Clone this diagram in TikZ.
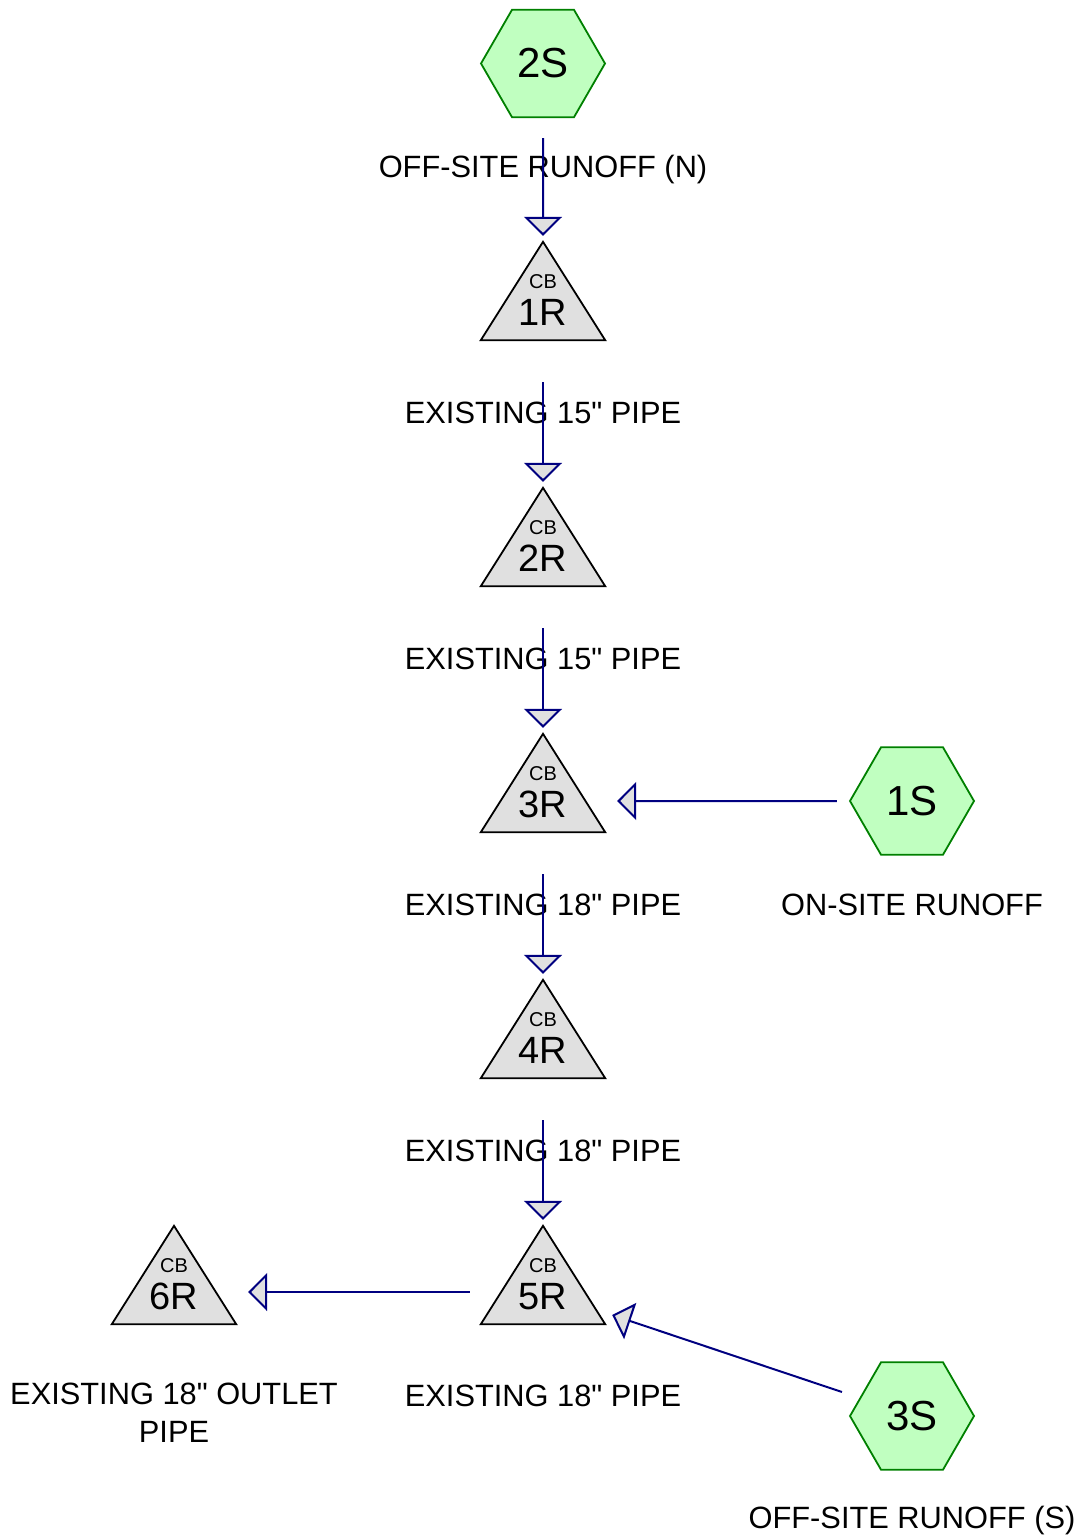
\documentclass[tikz,border=0pt]{standalone}
\usepackage{fontspec}
\setmainfont{Liberation Sans}[Ligatures=TeXOff]
\usetikzlibrary{shapes.geometric,arrows.meta,calc}
\definecolor{hexfill}{HTML}{C0FFC0}
\definecolor{hexline}{HTML}{008000}
\definecolor{trifill}{HTML}{E0E0E0}
\definecolor{flowc}{HTML}{000080}
\newcommand{\inch}{{\char34}}
\begin{document}
\begin{tikzpicture}[x=1pt,y=-1pt,
  hexa/.style={regular polygon, regular polygon sides=6, minimum size=124pt,
    inner sep=0pt, draw=hexline, fill=hexfill, line width=1.8pt,
    font=\fontsize{42}{42}\selectfont},
  frame/.style={minimum width=124pt, minimum height=98pt, inner sep=0pt},
  tri/.style={draw=black, fill=trifill, line width=1.8pt, line join=miter},
  cbtext/.style={anchor=base, inner sep=0pt, font=\fontsize{20}{20}\selectfont},
  idtext/.style={anchor=base, inner sep=0pt, font=\fontsize{38}{38}\selectfont},
  lbl/.style={anchor=base, inner sep=0pt, align=center, font=\fontsize{30.8}{38}\selectfont},
  flow/.style={draw=flowc, line width=2pt,
    -{Triangle[length=19pt, width=38pt, fill=trifill]}}
]
\useasboundingbox (0,0) rectangle (1080,1536);

% hexagons
\node[hexa] (h2) at (543,63.5) {\raisebox{-2pt}{2S}};
\node[hexa] (h1) at (912,801) {\raisebox{-2pt}{1S}};
\node[hexa] (h3) at (912,1416) {\raisebox{-2pt}{3S}};

% triangle frames
\node[frame] (r1) at (543,291) {};
\node[frame] (r2) at (543,537) {};
\node[frame] (r3) at (543,783) {};
\node[frame] (r4) at (543,1029) {};
\node[frame] (r5) at (543,1275) {};
\node[frame] (r6) at (174,1275) {};

\foreach \r/\t in {r1/1R,r2/2R,r3/3R,r4/4R,r5/5R,r6/6R}{
  \draw[tri] (\r.north) -- (\r.south east) -- (\r.south west) -- cycle;
  \node[cbtext] (\r cb) at ($(\r.north)+(0,47)$) {CB};
  \node[idtext] (\r id) at ($(\r.north)+(0,84)$) {\t};
}

% labels
\node[lbl] (l2s) at (543,177) {OFF-SITE RUNOFF (N)};
\node[lbl] (l1r) at (543,423) {EXISTING 15\inch{} PIPE};
\node[lbl] (l2r) at (543,669) {EXISTING 15\inch{} PIPE};
\node[lbl] (l3r) at (543,915) {EXISTING 18\inch{} PIPE};
\node[lbl] (l1s) at (912,915) {ON-SITE RUNOFF};
\node[lbl] (l4r) at (543,1161) {EXISTING 18\inch{} PIPE};
\node[lbl] (l5r) at (543,1406) {EXISTING 18\inch{} PIPE};
\node[lbl] (l6r) at (174,1442) {EXISTING 18\inch{} OUTLET\\PIPE};
\node[lbl] (l3s) at (912,1528) {OFF-SITE RUNOFF (S)};

% connectors
\draw[flow] ($(h2.south)+(0,20)$) -- ($(r1.north)+(0,-6)$);
\draw[flow] ($(r1.south)+(0,42)$) -- ($(r2.north)+(0,-6)$);
\draw[flow] ($(r2.south)+(0,42)$) -- ($(r3.north)+(0,-6)$);
\draw[flow] ($(r3.south)+(0,42)$) -- ($(r4.north)+(0,-6)$);
\draw[flow] ($(r4.south)+(0,42)$) -- ($(r5.north)+(0,-6)$);
\draw[flow] ($(h1.west)+(-12,0)$) -- ($(r3.east)+(12,18)$);
\draw[flow] ($(r5.west)+(-11,17)$) -- ($(r6.east)+(12,17)$);
\draw[flow] ($(h3.west)+(-7,-24)$) -- ($(r5.east)+(7,40)$);
\end{tikzpicture}
\end{document}
